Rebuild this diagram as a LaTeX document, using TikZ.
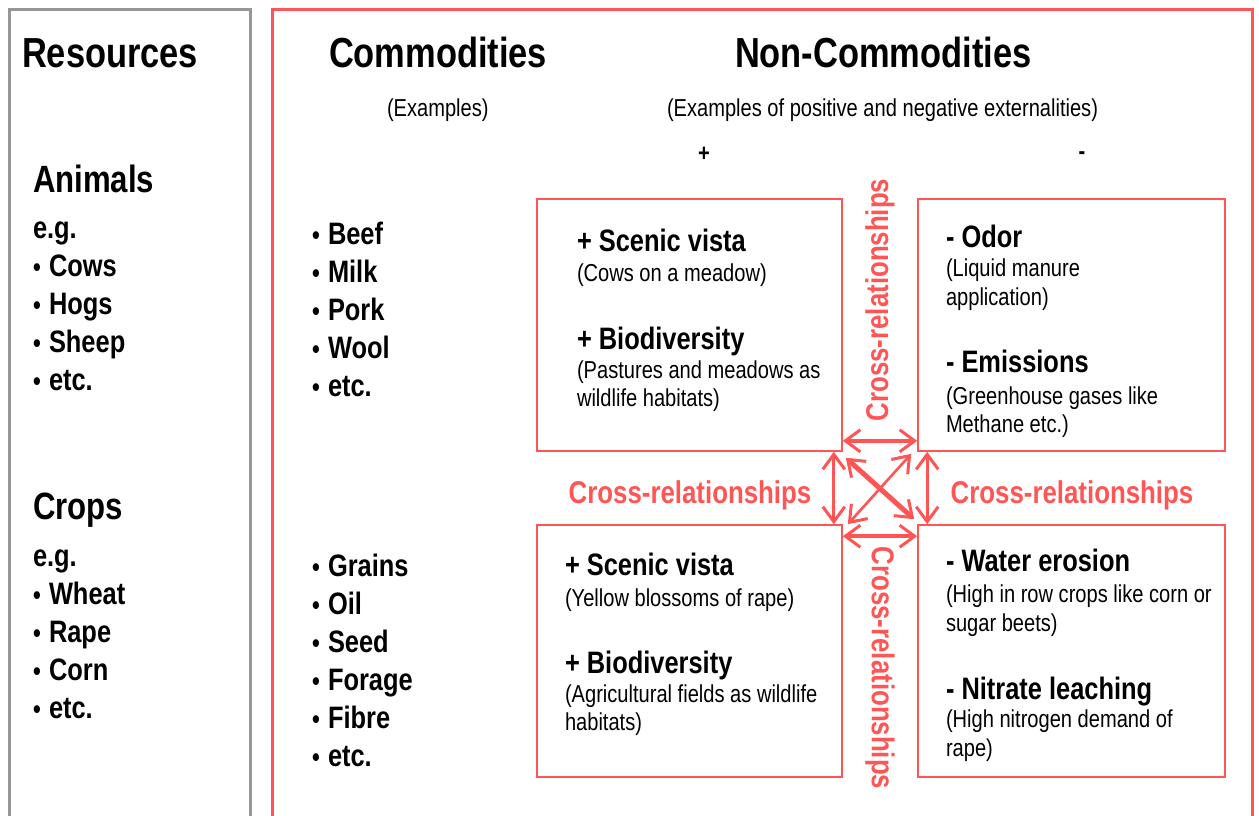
\documentclass[tikz,border=0pt]{standalone}
\usepackage{fontspec}
\setmainfont{Liberation Sans}[FakeStretch=0.82]
\usetikzlibrary{arrows.meta}
\definecolor{cred}{RGB}{255,85,85}
\definecolor{cgray}{RGB}{150,150,150}
\newcommand{\bul}{\makebox[16pt][l]{\raisebox{0pt}{\fontsize{27}{27}\selectfont\textbullet}}}
\tikzset{
  txt/.style={inner sep=0pt, outer sep=0pt, anchor=base west, text=black},
  title/.style={txt, font=\fontsize{42}{48}\selectfont\bfseries},
  group/.style={txt, font=\fontsize{38}{44}\selectfont\bfseries},
  item/.style={txt, font=\fontsize{31}{38}\selectfont\bfseries},
  small/.style={txt, font=\fontsize{24.5}{28}\selectfont},
  cross/.style={inner sep=0pt, text=cred, font=\fontsize{31.5}{36}\selectfont\bfseries},
  ebox/.style={draw=cred, line width=1.6pt, minimum height=252pt, inner sep=0pt},
  arr/.style={draw=cred, {Straight Barb[length=15pt,width=22pt,line width=3pt]}-{Straight Barb[length=15pt,width=22pt,line width=3pt]}},
}
\begin{document}
\begin{tikzpicture}[x=1pt,y=-1pt]
\useasboundingbox (0,0) rectangle (1259,816);
\clip (0,0) rectangle (1259,816);
% frames
\draw[cgray, line width=3pt] (9,830) -- (9,10) -- (250,10) -- (250,830);
\draw[cred, line width=3pt] (272,830) -- (272,10) -- (1252,10) -- (1252,830);
% headings
\node[title] (res) at (22,68) {Resources};
\node[title] (com) at (329,68) {Commodities};
\node[title] (noncom) at (735,68) {Non-Commodities};
\node[small] (ex1) at (387,116) {(Examples)};
\node[small] (ex2) at (667,116) {(Examples of positive and negative externalities)};
\node[small, anchor=center, font=\fontsize{24.5}{28}\selectfont\bfseries] (plus) at (704,154) {+};
\node[small, anchor=center, font=\fontsize{24.5}{28}\selectfont\bfseries] (minus) at (1082,156) {-};
% resources
\node[group] (animals) at (33,192) {Animals};
\node[item] (eg1) at (33,238) {e.g.};
\node[item] (cows) at (33,276) {\bul Cows};
\node[item] (hogs) at (33,314) {\bul Hogs};
\node[item] (sheep) at (33,352) {\bul Sheep};
\node[item] (etc1) at (33,390) {\bul etc.};
\node[group] (crops) at (33,519) {Crops};
\node[item] (eg2) at (33,566) {e.g.};
\node[item] (wheat) at (33,604) {\bul Wheat};
\node[item] (rape) at (33,642) {\bul Rape};
\node[item] (corn) at (33,680) {\bul Corn};
\node[item] (etc2) at (33,718) {\bul etc.};
% commodities
\node[item] (beef) at (312,244) {\bul Beef};
\node[item] (milk) at (312,282) {\bul Milk};
\node[item] (pork) at (312,320) {\bul Pork};
\node[item] (wool) at (312,358) {\bul Wool};
\node[item] (etc3) at (312,396) {\bul etc.};
\node[item] (grains) at (312,576) {\bul Grains};
\node[item] (oil) at (312,614) {\bul Oil};
\node[item] (seed) at (312,652) {\bul Seed};
\node[item] (forage) at (312,690) {\bul Forage};
\node[item] (fibre) at (312,728) {\bul Fibre};
\node[item] (etc4) at (312,766) {\bul etc.};
% boxes
\node[ebox, minimum width=305pt] (tl) at (689.5,325) {};
\node[ebox, minimum width=307pt] (tr) at (1071.5,325) {};
\node[ebox, minimum width=305pt] (bl) at (689.5,651) {};
\node[ebox, minimum width=307pt] (br) at (1071.5,651) {};
% top-left content
\node[item] (tl1) at (577,251) {+ Scenic vista};
\node[small] (tl2) at (577,281) {(Cows on a meadow)};
\node[item] (tl3) at (577,349) {+ Biodiversity};
\node[small] (tl4) at (577,378) {(Pastures and meadows as};
\node[small] (tl5) at (577,406) {wildlife habitats)};
% top-right content
\node[item] (tr1) at (946,247) {- Odor};
\node[small] (tr2) at (946,276) {(Liquid manure};
\node[small] (tr3) at (946,305) {application)};
\node[item] (tr4) at (946,372) {- Emissions};
\node[small] (tr5) at (946,404) {(Greenhouse gases like};
\node[small] (tr6) at (946,432) {Methane etc.)};
% bottom-left content
\node[item] (bl1) at (565,575) {+ Scenic vista};
\node[small] (bl2) at (565,606) {(Yellow blossoms of rape)};
\node[item] (bl3) at (565,673) {+ Biodiversity};
\node[small] (bl4) at (565,702) {(Agricultural fields as wildlife};
\node[small] (bl5) at (565,730) {habitats)};
% bottom-right content
\node[item] (br1) at (946,571) {- Water erosion};
\node[small] (br2) at (946,602) {(High in row crops like corn or};
\node[small] (br3) at (946,631) {sugar beets)};
\node[item] (br4) at (946,699) {- Nitrate leaching};
\node[small] (br5) at (946,727) {(High nitrogen demand of};
\node[small] (br6) at (946,756) {rape)};
% cross labels
\node[cross] (crl) at (690,495) {Cross-relationships};
\node[cross] (crr) at (1072,495) {Cross-relationships};
\node[cross, rotate=90] (crt) at (880,300) {Cross-relationships};
\node[cross, rotate=-90] (crb) at (880,668) {Cross-relationships};
% arrows
\draw[arr, line width=4.5pt] ([yshift=11pt]tl.south east) -- ([yshift=11pt]tr.south west);
\draw[arr, line width=4.5pt] ([yshift=-12pt]bl.north east) -- ([yshift=-12pt]br.north west);
\draw[arr, line width=3pt] ([xshift=-9pt]tl.south east) -- ([xshift=-9pt]bl.north east);
\draw[arr, line width=3pt] ([xshift=10pt]tr.south west) -- ([xshift=10pt]br.north west);
\draw[arr, line width=5pt] ([shift={(3pt,-6pt)}]tl.south east) -- ([shift={(-3pt,5pt)}]br.north west);
\draw[arr, line width=2.6pt] ([shift={(-6pt,-2pt)}]tr.south west) -- ([shift={(5pt,0pt)}]bl.north east);
\end{tikzpicture}
\end{document}
